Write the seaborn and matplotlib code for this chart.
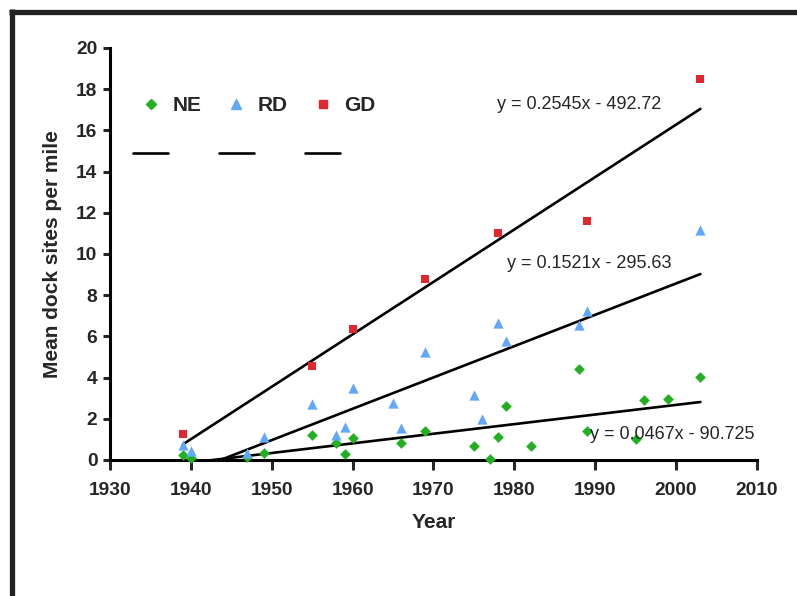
import seaborn as sns
import matplotlib.pyplot as plt
from matplotlib.lines import Line2D

# values
ne_year = [1939, 1940, 1947, 1949, 1955, 1958, 1959, 1960, 1966, 1969, 1975,
           1977, 1978, 1979, 1982, 1988, 1989, 1995, 1996, 1999, 2003]
ne_sites = [0.24, 0.1, 0.15, 0.35, 1.2, 0.82, 0.3, 1.07, 0.82, 1.4, 0.68,
            0.05, 1.13, 2.6, 0.68, 4.4, 1.4, 1.0, 2.9, 2.97, 4.03]
rd_year = [1939, 1940, 1947, 1949, 1955, 1958, 1959, 1960, 1965, 1966, 1969,
           1975, 1976, 1978, 1979, 1988, 1989, 2003]
rd_sites = [0.73, 0.45, 0.35, 1.1, 2.7, 1.2, 1.6, 3.5, 2.75, 1.55, 5.25,
            3.15, 2.0, 6.65, 5.8, 6.55, 7.25, 11.15]
gd_year = [1939, 1955, 1960, 1969, 1978, 1989, 2003]
gd_sites = [1.25, 4.57, 6.35, 8.8, 11.0, 11.6, 18.5]

series_names = ['NE', 'RD', 'GD']
trend_slope = [0.0467, 0.1521, 0.2545]
trend_icpt = [-90.725, -295.63, -492.72]
trend_text = ['y = 0.0467x - 90.725', 'y = 0.1521x - 295.63', 'y = 0.2545x - 492.72']

sns.set_style('white')
plt.rcParams['font.family'] = ['Liberation Sans', 'DejaVu Sans']

fig = plt.figure(figsize=(7.97, 5.96), dpi=100)
ax = fig.add_axes([0.138, 0.2282, 0.8118, 0.6913])

colors = ['#22b022', '#62a8f8', '#e2262e']
markers = ['D', '^', 's']
sizes = [30, 55, 38]
data = [(ne_year, ne_sites), (rd_year, rd_sites), (gd_year, gd_sites)]

handles = []
for i, (yr, val) in enumerate(data):
    sns.scatterplot(x=yr, y=val, ax=ax, color=colors[i], marker=markers[i],
                    s=sizes[i], linewidth=0, clip_on=False, zorder=3)
    xs = [min(yr), max(yr)]
    ys = [trend_slope[i] * x + trend_icpt[i] for x in xs]
    ax.plot(xs, ys, color='black', lw=1.9, zorder=2)
    handles.append(Line2D([], [], ls='', marker=markers[i], color=colors[i],
                          markersize=[5, 7, 6][i], label=series_names[i]))
    handles.append(Line2D([], [], color='black', lw=1.9, label=' '))

ax.text(1977.8, 17.28, trend_text[2], fontsize=13, va='center', ha='left')
ax.text(1979.1, 9.56, trend_text[1], fontsize=13, va='center', ha='left')
ax.text(1989.3, 1.26, trend_text[0], fontsize=13, va='center', ha='left')

ax.set_xlim(1930, 2010)
ax.set_ylim(0, 20)
ax.set_xticks(range(1930, 2011, 10))
ax.set_yticks(range(0, 21, 2))
ax.set_xlabel('Year', fontsize=15, fontweight='bold', labelpad=10)
ax.set_ylabel('Mean dock sites per mile', fontsize=15, fontweight='bold', labelpad=10)
for lab in ax.get_xticklabels() + ax.get_yticklabels():
    lab.set_fontweight('bold')
ax.tick_params(axis='x', direction='out', length=7, width=2.2, labelsize=13.8, pad=9, bottom=True)
ax.tick_params(axis='y', direction='out', length=5, width=2.2, labelsize=13.8, pad=4, left=True)
sns.despine(ax=ax)
for side in ['left', 'bottom']:
    ax.spines[side].set_linewidth(2.2)
    ax.spines[side].set_color('black')

leg = ax.legend(handles=handles, ncol=3, frameon=False, loc='upper left',
                bbox_to_anchor=(133 / 797, 1 - 96 / 596), bbox_transform=fig.transFigure,
                borderpad=0, borderaxespad=0, handlelength=1.68, handletextpad=0.2,
                columnspacing=0.84, labelspacing=1.46,
                prop={'size': 15, 'weight': 'bold'})

# outer frame (left and top edges)
fig.add_artist(Line2D([11.5 / 797, 11.5 / 797], [0, 1 - 9 / 596], color='#222222',
                      lw=3.8, transform=fig.transFigure, solid_capstyle='butt'))
fig.add_artist(Line2D([9 / 797, 1], [1 - 11.5 / 596, 1 - 11.5 / 596], color='#222222',
                      lw=3.8, transform=fig.transFigure, solid_capstyle='butt'))

fig.savefig('out.png', dpi=100)
